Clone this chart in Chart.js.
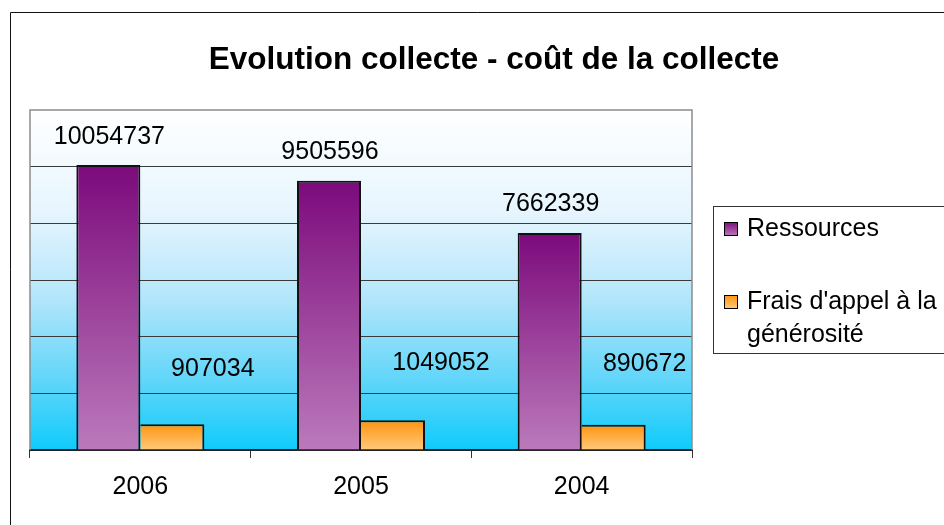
<!DOCTYPE html>
<html>
<head>
<meta charset="utf-8">
<script src="https://cdn.jsdelivr.net/npm/chart.js@4/dist/chart.umd.min.js"></script>
<style>
  html, body { margin: 0; padding: 0; background: #fff; }
  #wrap { width: 944px; height: 525px; position: relative; }
</style>
</head>
<body>
<div id="wrap"><canvas id="chart" width="944" height="525"></canvas></div>
<script>
// chart data
const years = ['2006', '2005', '2004'];
const ressources = [10054737, 9505596, 7662339];
const frais = [907034, 1049052, 890672];
const seriesNames = ['Ressources', "Frais d'appel à la générosité"];
const chartTitle = 'Evolution collecte - coût de la collecte';
const yMax = 12000000;
const yStep = 2000000;

const FONT = '"Liberation Sans", Arial, sans-serif';

// top / bottom colours of each series gradient
const seriesColors = [
  { top: '#7c0a7c', bottom: '#bb7abb' },
  { top: '#ff930f', bottom: '#ffca7c' }
];

function barGradient(ctx, chart, top, bottom, colors) {
  const g = ctx.createLinearGradient(0, top, 0, bottom);
  g.addColorStop(0, colors.top);
  g.addColorStop(1, colors.bottom);
  return g;
}

function scriptedFill(seriesIndex) {
  return function(context) {
    const chart = context.chart;
    const area = chart.chartArea;
    if (!area || context.type !== 'data') return seriesColors[seriesIndex].top;
    const top = chart.scales.y.getPixelForValue(context.raw);
    return barGradient(chart.ctx, chart, top, area.bottom, seriesColors[seriesIndex]);
  };
}

// Background, frame, title, legend and value labels
const decorPlugin = {
  id: 'decor',
  beforeDraw(chart) {
    const ctx = chart.ctx;
    const a = chart.chartArea;
    ctx.save();
    ctx.fillStyle = '#ffffff';
    ctx.fillRect(0, 0, chart.width, chart.height);

    // plot area gradient
    const g = ctx.createLinearGradient(0, a.top, 0, a.bottom);
    g.addColorStop(0, '#ffffff');
    g.addColorStop(0.3, '#e6f5fe');
    g.addColorStop(0.55, '#b4e6fb');
    g.addColorStop(0.8, '#5fd5f9');
    g.addColorStop(1, '#0fcbfb');
    ctx.fillStyle = g;
    ctx.fillRect(a.left, a.top, a.right - a.left, a.bottom - a.top);

    // outer frame (runs off the right and bottom edge)
    ctx.strokeStyle = '#111';
    ctx.lineWidth = 1;
    ctx.beginPath();
    ctx.moveTo(10.5, chart.height + 2);
    ctx.lineTo(10.5, 12.5);
    ctx.lineTo(chart.width + 2, 12.5);
    ctx.stroke();

    // title
    ctx.fillStyle = '#000';
    ctx.font = 'bold 31.5px ' + FONT;
    ctx.textAlign = 'center';
    ctx.textBaseline = 'middle';
    ctx.fillText(chartTitle, 494, 60);
    ctx.restore();
  },
  afterDatasetsDraw(chart) {
    const ctx = chart.ctx;
    const a = chart.chartArea;
    ctx.save();

    // plot area border (grey)
    ctx.strokeStyle = '#8c8c8c';
    ctx.lineWidth = 1.5;
    ctx.beginPath();
    ctx.moveTo(a.left, a.bottom);
    ctx.lineTo(a.left, a.top);
    ctx.lineTo(a.right, a.top);
    ctx.lineTo(a.right, a.bottom);
    ctx.stroke();

    // value labels
    const offsets = [
      [[1, -28.5], [1, -28.5], [1, -28.5]],
      [[40.5, -55], [48, -57], [31, -61]]
    ];
    ctx.fillStyle = '#000';
    ctx.font = '25px ' + FONT;
    ctx.textAlign = 'center';
    ctx.textBaseline = 'middle';
    chart.data.datasets.forEach((ds, di) => {
      const meta = chart.getDatasetMeta(di);
      meta.data.forEach((el, i) => {
        const off = offsets[di][i];
        ctx.fillText(String(ds.data[i]), el.x + off[0], el.y + off[1]);
      });
    });

    // legend
    const lx = 713.5, ly = 206.5, lb = 353.5;
    ctx.fillStyle = '#ffffff';
    ctx.fillRect(lx, ly, chart.width - lx + 5, lb - ly);
    ctx.strokeStyle = '#333';
    ctx.lineWidth = 1;
    ctx.strokeRect(lx, ly, chart.width - lx + 5, lb - ly);

    ctx.font = '25px ' + FONT;
    ctx.textAlign = 'left';
    ctx.textBaseline = 'alphabetic';
    const textX = 747;
    const maxW = chart.width - textX - 4;
    const baselines = [236, 309];
    chart.data.datasets.forEach((ds, di) => {
      // wrap label into lines
      const words = ds.label.split(' ');
      const lines = [];
      let cur = '';
      words.forEach(w => {
        const test = cur ? cur + ' ' + w : w;
        if (ctx.measureText(test).width > maxW && cur) {
          lines.push(cur);
          cur = w;
        } else {
          cur = test;
        }
      });
      lines.push(cur);

      const base = baselines[di];
      const sy = base - 14;
      const sg = ctx.createLinearGradient(0, sy, 0, sy + 14);
      sg.addColorStop(0, seriesColors[di].top);
      sg.addColorStop(1, seriesColors[di].bottom);
      ctx.fillStyle = sg;
      ctx.fillRect(724, sy, 13, 13);
      ctx.strokeStyle = '#000';
      ctx.strokeRect(724.5, sy + 0.5, 13, 13);

      ctx.fillStyle = '#000';
      lines.forEach((ln, li) => {
        ctx.fillText(ln, textX, base + li * 33);
      });
    });
    ctx.restore();
  }
};

new Chart(document.getElementById('chart'), {
  type: 'bar',
  data: {
    labels: years,
    datasets: [
      {
        label: seriesNames[0],
        data: ressources,
        backgroundColor: scriptedFill(0),
        borderColor: '#111',
        borderWidth: { top: 2, left: 2, right: 2, bottom: 0 },
        borderSkipped: false
      },
      {
        label: seriesNames[1],
        data: frais,
        backgroundColor: scriptedFill(1),
        borderColor: '#111',
        borderWidth: { top: 2, left: 0, right: 2, bottom: 0 },
        borderSkipped: false
      }
    ]
  },
  options: {
    responsive: false,
    animation: false,
    events: [],
    layout: {
      padding: { left: 30, right: 252, top: 110, bottom: 0 }
    },
    datasets: {
      bar: {
        categoryPercentage: 0.58,
        barPercentage: 1
      }
    },
    scales: {
      x: {
        grid: {
          offset: true,
          drawOnChartArea: false,
          tickLength: 8,
          color: '#333'
        },
        border: { display: true, color: '#222', width: 2 },
        ticks: {
          color: '#000',
          font: { family: FONT, size: 25 },
          padding: 14
        },
        afterFit(scale) { scale.height = 75; }
      },
      y: {
        min: 0,
        max: yMax,
        ticks: { display: false, stepSize: yStep },
        grid: {
          drawTicks: false,
          color: ctx => (ctx.tick && ctx.tick.value >= yMax) ? 'rgba(0,0,0,0)' : '#3a3a3a',
          lineWidth: 1
        },
        border: { display: false },
        afterFit(scale) { scale.width = 0; }
      }
    },
    plugins: {
      legend: { display: false },
      title: { display: false },
      tooltip: { enabled: false }
    }
  },
  plugins: [decorPlugin]
});
</script>
</body>
</html>
